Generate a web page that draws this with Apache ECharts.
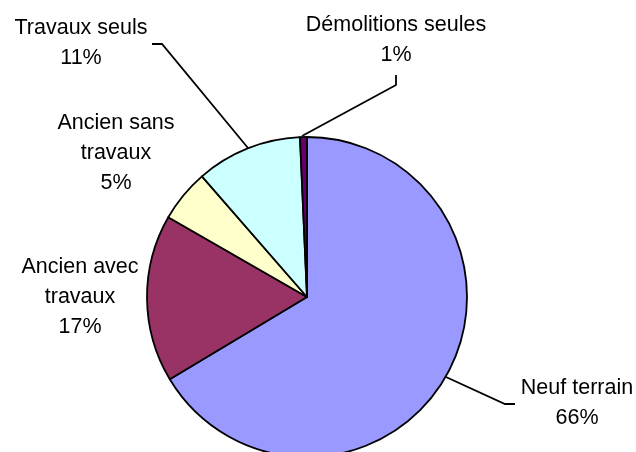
<!DOCTYPE html>
<html>
<head>
<meta charset="utf-8">
<script src="https://cdn.jsdelivr.net/npm/echarts@6/dist/echarts.min.js"></script>
<style>
html,body{margin:0;padding:0;background:#fff;}
#chart{width:636px;height:452px;}
</style>
</head>
<body>
<div id="chart"></div>
<script>
const categories = ['Neuf terrain', 'Ancien avec\ntravaux', 'Ancien sans\ntravaux', 'Travaux seuls', 'Démolitions seules'];
const values = [66.4, 16.9, 5.3, 10.7, 0.7];
const colors = ['#9999FF', '#993366', '#FFFFCC', '#CCFFFF', '#660066'];

// label placement (layout only)
const labelPos = [
  { x: 577, y: 403, line: [[446, 377], [505, 404], [515, 404]] },
  { x: 80, y: 297, line: null },
  { x: 116, y: 153, line: null },
  { x: 81, y: 43, line: [[248, 148], [162, 44], [152, 44]] },
  { x: 396, y: 40, line: [[302, 136], [396, 85], [396, 75]] }
];

const total = values.reduce((a, b) => a + b, 0);
const chart = echarts.init(document.getElementById('chart'), null, { renderer: 'canvas' });
chart.setOption({
  backgroundColor: '#ffffff',
  animation: false,
  series: [{
    type: 'pie',
    center: [307, 297],
    radius: 160,
    startAngle: 90,
    clockwise: true,
    avoidLabelOverlap: false,
    itemStyle: { borderColor: '#000', borderWidth: 1.8 },
    label: {
      show: true,
      position: 'outside',
      color: '#000',
      fontFamily: 'Liberation Sans, Arial, sans-serif',
      fontSize: 21.5,
      lineHeight: 30,
      align: 'center',
      formatter: p => p.name + '\n' + Math.round(p.value / total * 100) + '%'
    },
    labelLine: { show: true, lineStyle: { color: '#000', width: 1.8 } },
    labelLayout: function (params) {
      const lp = labelPos[params.dataIndex];
      const r = { x: lp.x, y: lp.y, align: 'center', verticalAlign: 'middle' };
      if (lp.line) r.labelLinePoints = lp.line;
      return r;
    },
    data: categories.map((c, i) => ({
      name: c,
      value: values[i],
      itemStyle: { color: colors[i] },
      labelLine: { show: labelPos[i].line !== null }
    }))
  }]
});
</script>
</body>
</html>
